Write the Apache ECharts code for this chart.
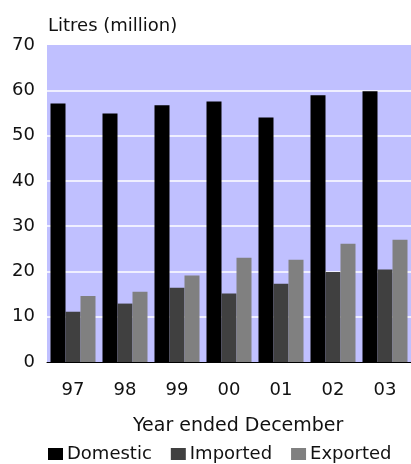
<!DOCTYPE html>
<html>
<head>
<meta charset="utf-8">
<script src="https://cdn.jsdelivr.net/npm/echarts@6/dist/echarts.min.js"></script>
<style>
  html, body { margin: 0; padding: 0; background: #ffffff; }
  #chart { width: 411px; height: 464px; }
</style>
</head>
<body>
<div id="chart"></div>
<script>
// Wine volumes by year, million litres
var years = ['97', '98', '99', '00', '01', '02', '03'];
var domestic = [57.1, 54.9, 56.7, 57.5, 54.0, 58.9, 59.8];
var imported = [11.1, 12.9, 16.4, 15.1, 17.3, 19.9, 20.4];
var exported = [14.6, 15.5, 19.1, 23.0, 22.6, 26.1, 27.0];
var yTicks = { min: 0, max: 70, step: 10 };

var FONT = '"DejaVu Sans", sans-serif';
var chart = echarts.init(document.getElementById('chart'), null, { renderer: 'canvas' });

function barSeries(name, data, color) {
  return {
    name: name,
    type: 'bar',
    data: data,
    barWidth: 15,
    barGap: '0%',
    itemStyle: { color: color },
    emphasis: { disabled: true },
    animation: false
  };
}

chart.setOption({
  animation: false,
  textStyle: { fontFamily: FONT, color: '#111' },
  grid: {
    left: 47, right: 0, top: 45, bottom: 102,
    show: true, backgroundColor: '#c0c0ff', borderWidth: 0
  },
  title: [
    {
      text: 'Litres (million)',
      left: 43, top: 12,
      textStyle: { fontFamily: FONT, fontSize: 18, fontWeight: 'normal', color: '#111' }
    },
    {
      text: 'Year ended December',
      left: 128, top: 412,
      textStyle: { fontFamily: FONT, fontSize: 19, fontWeight: 'normal', color: '#111' }
    }
  ],
  legend: {
    data: ['Domestic', 'Imported', 'Exported'],
    left: 48, top: 445,
    itemWidth: 15, itemHeight: 12, itemGap: 19,
    icon: 'rect',
    textStyle: { fontFamily: FONT, fontSize: 18, color: '#111', padding: [0, 0, 0, -1] },
    padding: 0,
    selectedMode: false
  },
  xAxis: {
    type: 'category',
    data: years,
    axisLine: { show: true, lineStyle: { color: '#000', width: 1 } },
    axisTick: { show: false },
    axisLabel: { fontFamily: FONT, fontSize: 18, color: '#111', margin: 19 }
  },
  yAxis: {
    type: 'value',
    min: yTicks.min, max: yTicks.max, interval: yTicks.step,
    axisLine: { show: false },
    axisTick: { show: false },
    axisLabel: { fontFamily: FONT, fontSize: 18, color: '#111', margin: 12 },
    splitLine: {
      show: true, showMinLine: false, showMaxLine: false,
      lineStyle: { color: '#ffffff', width: 1.5 }
    }
  },
  series: [
    barSeries('Domestic', domestic, '#000000'),
    barSeries('Imported', imported, '#404040'),
    barSeries('Exported', exported, '#808080')
  ]
});
</script>
</body>
</html>
